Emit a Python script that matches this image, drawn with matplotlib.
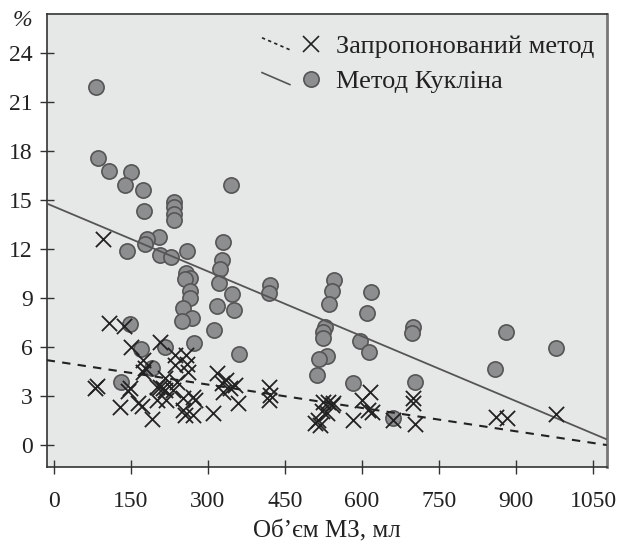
import numpy as np
import matplotlib
matplotlib.use("Agg")
import matplotlib.pyplot as plt
from matplotlib.lines import Line2D

plt.rcParams['font.family'] = ['Liberation Serif', 'DejaVu Serif']

# Метод Кукліна (кружки)
kuklin_x = [82, 85, 107, 150, 138, 173, 175, 234, 234, 234, 233, 344, 204, 182, 177,
            143, 260, 206, 227, 330, 327, 324, 321, 347, 257, 265, 255, 265, 265, 420,
            419, 545, 541, 536, 617, 609, 528, 525, 525, 531, 517, 512, 597, 613, 700,
            698, 881, 977, 860, 582, 703, 661, 148, 170, 216, 191, 130, 273, 251, 268,
            249, 317, 351, 312, 360]
kuklin_y = [21.9, 17.6, 16.8, 16.7, 15.95, 15.6, 14.3, 14.88, 14.57, 14.17, 13.8, 15.95,
            12.74, 12.6, 12.33, 11.88, 11.88, 11.64, 11.5, 12.4, 11.35, 10.78, 9.92, 9.23,
            10.53, 10.25, 10.13, 9.43, 8.97, 9.78, 9.31, 10.1, 9.43, 8.6, 9.37, 8.05, 7.2,
            6.9, 6.52, 5.45, 5.24, 4.28, 6.36, 5.69, 7.19, 6.88, 6.92, 5.92, 4.65, 3.78,
            3.82, 1.62, 7.39, 5.88, 5.98, 4.7, 3.86, 6.25, 8.37, 7.8, 7.59, 8.5, 8.25,
            7.04, 5.55]

# Запропонований метод (хрестики)
prop_x = [95, 107, 137, 150, 206, 83, 80, 177, 174, 174, 148, 145, 129, 171, 164, 190,
          206, 213, 236, 258, 236, 259, 262, 216, 200, 216, 239, 232, 200, 219, 252, 271,
          275, 252, 271, 255, 310, 317, 327, 336, 343, 330, 353, 359, 418, 421, 418, 525,
          534, 541, 544, 522, 531, 515, 508, 518, 616, 600, 612, 619, 583, 700, 700, 703,
          861, 882, 977, 661]
prop_y = [12.6, 7.47, 7.27, 6.0, 6.31, 3.6, 3.5, 4.73, 4.47, 5.19, 3.45, 3.3, 2.33, 2.37,
          2.53, 1.58, 3.55, 3.45, 5.49, 5.49, 4.88, 4.98, 4.47, 4.07, 3.55, 3.35, 3.86,
          3.35, 2.74, 2.74, 2.84, 2.94, 2.74, 2.12, 1.82, 1.82, 1.92, 4.37, 3.76, 3.96,
          3.45, 3.25, 3.66, 2.53, 3.55, 3.04, 2.74, 2.63, 2.63, 2.43, 2.53, 2.04, 1.94,
          1.53, 1.33, 1.23, 3.25, 2.74, 2.12, 2.02, 1.51, 2.84, 2.53, 1.25, 1.72, 1.65,
          1.86, 1.51]

# лінії тренду: (перетин, нахил)
kuklin_fit = (14.6, -0.01325)
prop_fit = (5.12, -0.00477)

xticks = [0, 150, 300, 450, 600, 750, 900, 1050]
yticks = [0, 3, 6, 9, 12, 15, 18, 21, 24]

fs = 17
fig = plt.figure(figsize=(6.18, 5.48), dpi=100)
ax = fig.add_axes([46.7/618, (548-467.3)/548, 560/618, 453.3/548])
ax.set_facecolor('#e6e7e7')
ax.set_xlim(-14.2, 1076.7)
ax.set_ylim(-1.38, 26.4)

xx = np.array([-14.2, 1076.7])
ax.plot(xx, kuklin_fit[0] + kuklin_fit[1]*xx, color='#555555', lw=1.3, zorder=3)
ax.plot(xx, prop_fit[0] + prop_fit[1]*xx, color='#222222', lw=1.5, ls=(0, (4, 3.5)), zorder=3)

ax.scatter(kuklin_x, kuklin_y, s=120, facecolor='#8d8e90', edgecolor='#555555',
           linewidth=1.2, zorder=2)
ax.scatter(prop_x, prop_y, s=120, marker='x', color='#222222', linewidth=1.3, zorder=4)

ax.set_xticks(xticks)
ax.set_yticks(yticks)
ax.tick_params(direction='inout', length=10, width=1, color='#333333',
               labelsize=fs, labelcolor='#222222')
ax.tick_params(axis='x', pad=12)
ax.tick_params(axis='y', pad=5)
for s in ['left', 'bottom', 'top']:
    ax.spines[s].set_color('#333333')
    ax.spines[s].set_linewidth(1.2)
ax.spines['right'].set_color('#777777')
ax.spines['right'].set_linewidth(2)

ax.set_xlabel('Об’єм МЗ, мл', fontsize=18, color='#222222', labelpad=6)
fig.text(22/618, 1 - 20/548, '%', fontsize=fs, color='#222222', ha='center', va='center',
         style='italic')


class SlantHandler:
    def __init__(self, ls, lc, marker, mfc, mec):
        self.ls, self.lc, self.marker, self.mfc, self.mec = ls, lc, marker, mfc, mec

    def legend_artist(self, legend, orig_handle, fontsize, handlebox):
        x0, y0 = handlebox.xdescent, handlebox.ydescent
        w, h = handlebox.width, handlebox.height
        ln = Line2D([x0, x0 + w*0.48], [y0 + h*0.85, y0 + h*0.2], ls=self.ls,
                    color=self.lc, lw=1.2)
        mk = Line2D([x0 + w*0.845], [y0 + h*0.5], marker=self.marker, ls='none',
                    markersize=11, markerfacecolor=self.mfc, markeredgecolor=self.mec,
                    markeredgewidth=1.2)
        handlebox.add_artist(ln)
        handlebox.add_artist(mk)
        return ln


h1 = Line2D([], [])
h2 = Line2D([], [])
leg = ax.legend([h1, h2], ['Запропонований метод', 'Метод Кукліна'],
                handler_map={h1: SlantHandler((0, (2, 2)), '#222222', 'x', '#222222', '#222222'),
                             h2: SlantHandler('-', '#555555', 'o', '#8d8e90', '#555555')},
                loc='upper left', bbox_to_anchor=((262 - 46.7)/560, (467.3 - 35)/453.3),
                frameon=False, fontsize=19, handlelength=2.2, handletextpad=0.6,
                labelspacing=0.43, borderpad=0, borderaxespad=0)
for t in leg.get_texts():
    t.set_color('#222222')

fig.savefig('out.png', dpi=100)
